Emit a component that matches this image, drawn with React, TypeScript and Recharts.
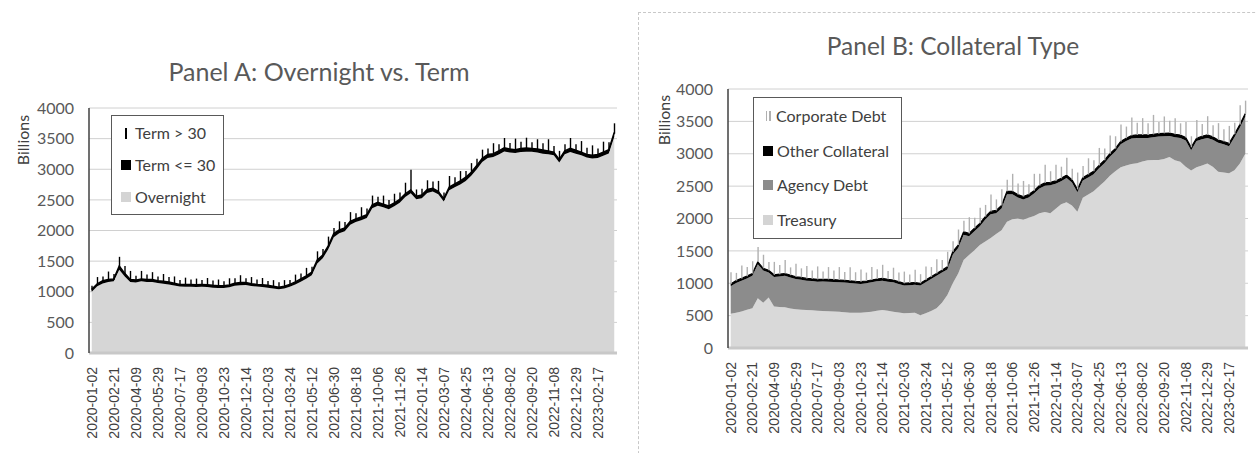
import React from "react";
import { ComposedChart, Area, Bar, XAxis, YAxis, CartesianGrid, Legend } from "recharts";

// tick dates shown on both x axes (one label every 4th point)
const tickLabels = [
  "2020-01-02", "2020-02-21", "2020-04-09", "2020-05-29", "2020-07-17", "2020-09-03",
  "2020-10-23", "2020-12-14", "2021-02-03", "2021-03-24", "2021-05-12", "2021-06-30",
  "2021-08-18", "2021-10-06", "2021-11-26", "2022-01-14", "2022-03-07", "2022-04-25",
  "2022-06-13", "2022-08-02", "2022-09-20", "2022-11-08", "2022-12-29", "2023-02-17",
];

// Panel A (billions)
const overnight = [
  1000, 1088, 1135, 1160, 1172, 1360, 1250, 1158, 1150, 1170, 1158, 1160, 1142, 1130, 1120, 1102,
  1084, 1082, 1080, 1077, 1082, 1079, 1067, 1060, 1062, 1074, 1100, 1108, 1110, 1092, 1084, 1077,
  1065, 1052, 1039, 1052, 1080, 1118, 1165, 1212, 1270, 1460, 1545, 1692, 1890, 1955, 1988, 2095,
  2140, 2168, 2205, 2362, 2405, 2380, 2348, 2395, 2452, 2545, 2608, 2510, 2525, 2612, 2635, 2590,
  2472, 2658, 2705, 2752, 2810, 2892, 2998, 3120, 3182, 3200, 3240, 3288, 3272, 3265, 3280, 3287,
  3285, 3272, 3255, 3245, 3228, 3110, 3245, 3282, 3255, 3228, 3190, 3175, 3182, 3220, 3258, 3530,
];
const termShort = [
  40, 42, 45, 40, 38, 60, 50, 42, 40, 40, 42, 40, 38, 40, 40, 38, 36, 38, 40, 38,
  38, 36, 38, 40, 38, 36, 40, 42, 40, 38, 36, 38, 40, 38, 36, 38, 40, 42, 45, 48,
  50, 60, 55, 58, 60, 55, 52, 55, 50, 52, 55, 58, 55, 50, 52, 55, 58, 55, 52, 50,
  55, 58, 55, 50, 48, 52, 55, 58, 60, 58, 62, 60, 58, 55, 60, 62, 58, 55, 60, 58,
  55, 58, 60, 55, 52, 50, 55, 58, 55, 52, 50, 55, 58, 60, 62, 70,
];
const termLong = [
  60, 110, 70, 130, 80, 150, 120, 140, 70, 130, 80, 120, 70, 120, 80, 110, 70, 110, 80, 100,
  70, 110, 80, 100, 70, 110, 80, 120, 70, 110, 80, 110, 70, 100, 80, 100, 70, 120, 90, 130,
  90, 140, 100, 150, 90, 140, 100, 150, 90, 160, 100, 150, 90, 140, 100, 150, 110, 180, 330, 110,
  100, 150, 110, 170, 100, 180, 110, 160, 100, 150, 110, 140, 100, 170, 110, 160, 100, 180, 110, 170,
  100, 160, 110, 190, 100, 140, 110, 170, 100, 180, 110, 160, 100, 170, 120, 150,
];

// Panel B (billions)
const treasury = [
  530, 545, 562, 590, 615, 770, 700, 780, 640, 632, 628, 610, 597, 592, 587, 582,
  577, 572, 566, 563, 561, 553, 546, 546, 546, 552, 561, 575, 587, 575, 561, 548,
  536, 540, 546, 505, 536, 570, 613, 700, 819, 1000, 1150, 1360, 1436, 1510, 1590, 1645,
  1700, 1760, 1820, 1950, 1990, 2000, 1980, 2010, 2040, 2080, 2100, 2080, 2150, 2220, 2250, 2200,
  2106, 2320, 2370, 2420, 2500, 2570, 2660, 2730, 2790, 2820, 2840, 2855, 2880, 2900, 2905, 2905,
  2920, 2950, 2900, 2875, 2800, 2740, 2790, 2820, 2850, 2800, 2723, 2710, 2698, 2745, 2850, 3000,
];
const agency = [
  425, 460, 478, 485, 500, 525, 495, 385, 455, 473, 487, 480, 468, 463, 453, 451,
  448, 455, 459, 457, 454, 457, 458, 449, 443, 448, 454, 455, 453, 450, 454, 442,
  429, 430, 429, 460, 479, 495, 502, 465, 392, 443, 395, 390, 289, 295, 290, 340,
  365, 320, 335, 425, 385, 325, 315, 315, 345, 385, 405, 435, 385, 355, 375, 355,
  299, 265, 265, 265, 275, 285, 295, 305, 355, 375, 395, 390, 365, 345, 350, 360,
  351, 325, 355, 370, 405, 315, 405, 405, 395, 415, 445, 435, 417, 510, 555, 575,
];
const otherCollateral = [
  35, 35, 35, 35, 35, 35, 35, 35, 35, 35, 35, 35, 35, 35, 35, 35, 35, 35, 35, 35,
  35, 35, 35, 35, 35, 35, 35, 35, 35, 35, 35, 35, 35, 35, 35, 35, 35, 35, 35, 35,
  45, 45, 45, 45, 45, 45, 45, 45, 45, 45, 45, 45, 45, 45, 45, 45, 45, 45, 45, 45,
  45, 45, 45, 45, 45, 45, 45, 45, 45, 45, 45, 45, 45, 45, 45, 45, 45, 45, 45, 45,
  45, 45, 45, 45, 45, 45, 45, 45, 45, 45, 45, 45, 45, 45, 45, 45,
];
const corporate = [
  180, 120, 200, 140, 190, 230, 210, 130, 200, 140, 210, 120, 200, 140, 190, 130, 200, 120, 190, 140,
  200, 130, 210, 140, 190, 130, 200, 150, 210, 130, 190, 140, 180, 130, 200, 140, 210, 150, 220, 160,
  230, 160, 240, 170, 250, 160, 240, 180, 260, 170, 250, 180, 270, 170, 240, 160, 260, 180, 280, 170,
  250, 180, 270, 170, 260, 180, 250, 170, 270, 180, 280, 190, 260, 180, 280, 190, 260, 180, 300, 180,
  260, 190, 250, 180, 240, 170, 280, 190, 290, 180, 260, 190, 270, 180, 300, 200,
];

const yTicks = [0, 500, 1000, 1500, 2000, 2500, 3000, 3500, 4000];

const dataA = overnight.map((v, i) => {
  const top = v + termShort[i];
  return { i, overnight: v, termShort: termShort[i], termLong: [top - 20, top + termLong[i]] };
});

const dataB = treasury.map((v, i) => {
  const top = v + agency[i] + otherCollateral[i];
  return { i, treasury: v, agency: agency[i], other: otherCollateral[i], corporate: [top, top + corporate[i]] };
});

const DateTick = (props: any) => {
  const { x, y, payload } = props;
  const ty = y + 14;
  return (
    <text
      x={x}
      y={ty}
      transform={`rotate(-90, ${x}, ${ty})`}
      textAnchor="end"
      dominantBaseline="central"
      fontFamily="'Liberation Sans', Arial, sans-serif"
      fontSize={14}
      fill="#404040"
    >
      {tickLabels[payload.value / 4]}
    </text>
  );
};

// thin vertical spike drawn at the bar's own position
const Spike = (props: any) => {
  const { x, y, width, height, fill, sw } = props;
  if (height == null || isNaN(height)) return null;
  const cx = x + width / 2;
  return <line x1={cx} x2={cx} y1={y} y2={y + height} stroke={fill} strokeWidth={sw || 1.4} />;
};

const Swatch = ({ kind, color }: { kind: string; color: string }) => {
  if (kind === "line")
    return (
      <span style={{ display: "inline-flex", justifyContent: "center", width: 10, marginRight: 4 }}>
        <span style={{ width: 2.5, height: 11, background: color }} />
      </span>
    );
  if (kind === "dline")
    return (
      <span style={{ display: "inline-flex", justifyContent: "center", gap: 2, width: 10, marginRight: 3 }}>
        <span style={{ width: 1.5, height: 10, background: color }} />
        <span style={{ width: 1.5, height: 10, background: color }} />
      </span>
    );
  return <span style={{ display: "inline-block", width: 10, height: 10, background: color, marginRight: 4 }} />;
};

const LegendBox = ({ items, lh, pad }: { items: { name: string; kind: string; color: string }[]; lh: number; pad: string }) => (
  <div
    style={{
      border: "1.5px solid #595959",
      background: "#fff",
      padding: pad,
      fontFamily: "Lato, sans-serif",
      fontSize: 16,
      color: "#404040",
      lineHeight: `${lh}px`,
    }}
  >
    {items.map((it) => (
      <div key={it.name} style={{ display: "flex", alignItems: "center", whiteSpace: "nowrap" }}>
        <Swatch kind={it.kind} color={it.color} />
        {it.name}
      </div>
    ))}
  </div>
);

const legendA = [
  { name: "Term > 30", kind: "line", color: "#000" },
  { name: "Term <= 30", kind: "square", color: "#000" },
  { name: "Overnight", kind: "square", color: "#d4d4d4" },
];
const legendB = [
  { name: "Corporate Debt", kind: "dline", color: "#b0b0b0" },
  { name: "Other Collateral", kind: "square", color: "#000" },
  { name: "Agency Debt", kind: "square", color: "#8c8c8c" },
  { name: "Treasury", kind: "square", color: "#d4d4d4" },
];

const titleStyle: React.CSSProperties = {
  position: "absolute",
  fontFamily: "Lato, sans-serif",
  color: "#595959",
  whiteSpace: "nowrap",
  transform: "translate(-50%, -50%)",
};
const billionsStyle: React.CSSProperties = {
  position: "absolute",
  fontFamily: "Lato, sans-serif",
  fontSize: 16,
  color: "#404040",
  whiteSpace: "nowrap",
  transform: "translate(-50%, -50%) rotate(-90deg)",
};
const yTickStyle = { fontFamily: "Lato, sans-serif", fontSize: 16, fill: "#595959" };

export default function App() {
  return (
    <div style={{ position: "relative", width: 1257, height: 453, overflow: "hidden", background: "#fff" }}>
      <style>{`body{margin:0}`}</style>

      <div style={{ ...titleStyle, fontSize: 25, left: 319, top: 71 }}>Panel A: Overnight vs. Term</div>
      <div style={{ ...billionsStyle, left: 22, top: 140 }}>Billions</div>
      <div style={{ position: "absolute", left: 0, top: 0 }}>
        <ComposedChart width={640} height={453} data={dataA} margin={{ top: 108, right: 23, bottom: 10, left: 39 }}>
          <CartesianGrid vertical={false} stroke="#d0d0d0" />
          <XAxis
            dataKey="i"
            type="category"
            interval={3}
            tick={<DateTick />}
            tickLine={false}
            tickSize={0}
            tickMargin={0}
            height={90}
            axisLine={{ stroke: "#c8c8c8", strokeWidth: 3 }}
          />
          <YAxis
            domain={[0, 4000]}
            ticks={yTicks}
            width={50}
            tickLine={false}
            tickSize={0}
            tickMargin={15}
            tick={yTickStyle}
            axisLine={{ stroke: "#404040", strokeWidth: 1.5 }}
          />
          <Area type="linear" dataKey="overnight" stackId="a" fill="#d6d6d6" fillOpacity={1} stroke="none" isAnimationActive={false} />
          <Area type="linear" dataKey="termShort" stackId="a" fill="#000" fillOpacity={1} stroke="#000" strokeWidth={1.5} isAnimationActive={false} />
          <Bar dataKey="termLong" fill="#000" barSize={2} shape={<Spike sw={1.4} />} isAnimationActive={false} />
          <Legend
            layout="vertical"
            align="center"
            verticalAlign="middle"
            wrapperStyle={{ left: 111, top: 115, width: "auto" }}
            content={() => <LegendBox items={legendA} lh={32} pad="1px 8px 1px 9px" />}
          />
        </ComposedChart>
      </div>

      <div
        style={{
          position: "absolute",
          left: 638,
          top: 12,
          width: 700,
          height: 500,
          border: "1px dashed #c8c8c8",
        }}
      />
      <div style={{ ...titleStyle, fontSize: 24.5, left: 953, top: 45 }}>Panel B: Collateral Type</div>
      <div style={{ ...billionsStyle, left: 663, top: 120 }}>Billions</div>
      <div style={{ position: "absolute", left: 630, top: 0 }}>
        <ComposedChart width={627} height={453} data={dataB} margin={{ top: 89, right: 9, bottom: 10, left: 48 }}>
          <CartesianGrid vertical={false} stroke="#d0d0d0" />
          <XAxis
            dataKey="i"
            type="category"
            interval={3}
            tick={<DateTick />}
            tickLine={false}
            tickSize={0}
            tickMargin={0}
            height={95}
            axisLine={{ stroke: "#c8c8c8", strokeWidth: 3 }}
          />
          <YAxis
            domain={[0, 4000]}
            ticks={yTicks}
            width={50}
            tickLine={false}
            tickSize={0}
            tickMargin={15}
            tick={yTickStyle}
            axisLine={{ stroke: "#404040", strokeWidth: 1.5 }}
          />
          <Area type="linear" dataKey="treasury" stackId="b" fill="#d9d9d9" fillOpacity={1} stroke="none" isAnimationActive={false} />
          <Area type="linear" dataKey="agency" stackId="b" fill="#8c8c8c" fillOpacity={1} stroke="none" isAnimationActive={false} />
          <Area type="linear" dataKey="other" stackId="b" fill="#000" fillOpacity={1} stroke="#000" strokeWidth={1.2} isAnimationActive={false} />
          <Bar dataKey="corporate" fill="#b0b0b0" barSize={2} shape={<Spike sw={1.4} />} isAnimationActive={false} />
          <Legend
            layout="vertical"
            align="center"
            verticalAlign="middle"
            wrapperStyle={{ left: 123, top: 97, width: "auto" }}
            content={() => <LegendBox items={legendB} lh={34.5} pad="1px 12px 1px 9px" />}
          />
        </ComposedChart>
      </div>
    </div>
  );
}
